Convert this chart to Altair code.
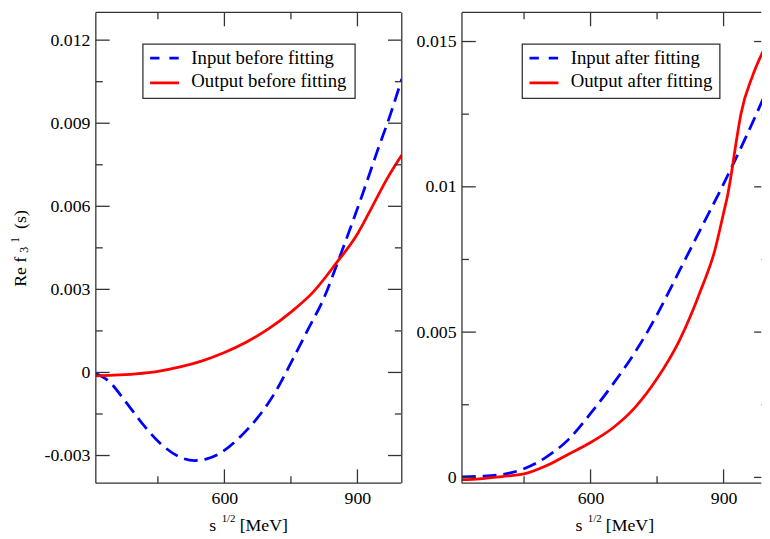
import altair as alt
import pandas as pd

# ---------------- data ----------------
s_left_input = [310, 340, 377, 414, 458, 503, 533, 562, 592, 637, 674, 711, 755, 790, 822, 863, 915, 945, 974, 1000]
f_left_input = [-0.00004, -0.00033, -0.00105, -0.00183, -0.0026, -0.00308, -0.00318, -0.00311, -0.0029, -0.0023,
                -0.00165, -0.00081, 0.0005, 0.0016, 0.0026, 0.0043, 0.0066, 0.0080, 0.0093, 0.0106]

s_left_output = [310, 350, 400, 450, 500, 550, 600, 650, 700, 750, 800, 850, 900, 937, 967, 1000]
f_left_output = [-0.00012, -0.0001, -0.00005, 0.00004, 0.0002, 0.00042, 0.00072, 0.0011, 0.00158, 0.00218,
                 0.0029, 0.0039, 0.0050, 0.0061, 0.0070, 0.00785]

s_right_input = [310, 350, 400, 450, 500, 550, 600, 650, 700, 750, 800, 850, 900, 950, 1000]
f_right_input = [0.00002, 0.00004, 0.0001, 0.0003, 0.0007, 0.0013, 0.0022, 0.0032, 0.0043, 0.0056,
                 0.0071, 0.0086, 0.0101, 0.0117, 0.0134]

s_right_output = [310, 350, 400, 450, 500, 550, 600, 650, 700, 750, 800, 850, 880, 900, 909, 917, 928, 939, 965, 987, 1000]
f_right_output = [-0.00008, -0.00005, 0.00003, 0.00012, 0.0004, 0.0008, 0.0012, 0.0017, 0.0024, 0.0034,
                  0.0047, 0.0065, 0.0078, 0.0091, 0.0097, 0.0104, 0.0115, 0.0125, 0.0138, 0.0146, 0.0150]

x_domain = [310, 1000]
x_major = [600, 900]
x_minor = [450, 750]

left_y_domain = [-0.004, 0.013]
left_y_major = [-0.003, 0, 0.003, 0.006, 0.009, 0.012]
left_y_minor = [-0.0015, 0.0015, 0.0045, 0.0075, 0.0105]

right_y_domain = [-0.0002, 0.016]
right_y_major = [0, 0.005, 0.01, 0.015]
right_y_minor = [0.0025, 0.0075, 0.0125]

left_legend = ["Input before fitting", "Output before fitting"]
right_legend = ["Input after fitting", "Output after fitting"]

# ---------------- styling / layout ----------------
FONT = "Liberation Serif"
BLUE = "#0000ff"
RED = "#ff0000"
FRAME = "#333333"
H = 477
FULL_W = 310                      # full frame width of a panel
MEV_PER_PX = (x_domain[1] - x_domain[0]) / FULL_W
RIGHT_VISIBLE_W = 304             # right panel is cut by the window edge
PLOT_TOP = 8.65                   # page y of the plot top
PLOT_LEFT = 95                    # page x of the left plot

one = pd.DataFrame({"k": [0]})
LABEL_EXPR = "replace(format(datum.value, '~g'), '\u2212', '-')"


def seg(x0, x1, y0, y1, **kw):
    enc = dict(x=alt.value(x0), y=alt.value(y0))
    if x1 != x0:
        enc["x2"] = alt.value(x1)
    if y1 != y0:
        enc["y2"] = alt.value(y1)
    style = dict(color=FRAME, strokeWidth=1.3)
    style.update(kw)
    return alt.Chart(one).mark_rule(**style).encode(**enc)


def txt(s, x, y, size, angle=None):
    kw = dict(text=s, font=FONT, fontSize=size, color="black", align="left", baseline="alphabetic")
    if angle is not None:
        kw["angle"] = angle
    return alt.Chart(one).mark_text(**kw).encode(x=alt.value(x), y=alt.value(y))


def panel(sx_in, fy_in, sx_out, fy_out, ydom, ymaj, ymin, labels, width, box_x0, box_x1, ytitle):
    xs = alt.Scale(domain=[x_domain[0], x_domain[0] + width * MEV_PER_PX], nice=False, zero=False)
    ys = alt.Scale(domain=ydom, nice=False, zero=False)
    rx = FULL_W
    edge = min(rx, width - 0.7)

    xaxis = alt.Axis(values=x_major, format="d", ticks=False, tickSize=0, domain=False, grid=False,
                     labelPadding=7, labelFontSize=18, labelFont=FONT, labelColor="black",
                     title=None, labelFlush=False)
    yaxis = alt.Axis(values=ymaj, labelExpr=LABEL_EXPR, ticks=False, tickSize=0, domain=False, grid=False,
                     labelPadding=6, labelFontSize=18, labelFont=FONT, labelColor="black",
                     title=None, labelFlush=False)
    X = lambda: alt.X("s:Q", scale=xs, axis=xaxis)
    Y = lambda: alt.Y("f:Q", scale=ys, axis=yaxis)

    layers = []

    def yt(vals, length):
        d = pd.DataFrame({"f": vals})
        a = alt.Chart(d).mark_rule(color=FRAME, strokeWidth=1.3).encode(
            y=Y(), x=alt.value(0), x2=alt.value(length))
        b = alt.Chart(d).mark_rule(color=FRAME, strokeWidth=1.3).encode(
            y=Y(), x=alt.value(rx - length), x2=alt.value(edge))
        return [a, b]

    def xt(vals, length):
        d = pd.DataFrame({"s": vals})
        a = alt.Chart(d).mark_rule(color=FRAME, strokeWidth=1.3).encode(
            x=X(), y=alt.value(H), y2=alt.value(H - length))
        b = alt.Chart(d).mark_rule(color=FRAME, strokeWidth=1.3).encode(
            x=X(), y=alt.value(0), y2=alt.value(length))
        return [a, b]

    df_in = pd.DataFrame({"s": sx_in, "f": fy_in})
    df_out = pd.DataFrame({"s": sx_out, "f": fy_out})
    layers.append(alt.Chart(df_in).mark_line(color=BLUE, strokeWidth=2.8, strokeDash=[14, 7],
                                             interpolate="monotone", clip=True)
                  .encode(x=X(), y=Y()))
    layers.append(alt.Chart(df_out).mark_line(color=RED, strokeWidth=2.8, interpolate="monotone", clip=True)
                  .encode(x=X(), y=Y()))

    layers += yt(ymaj, 14) + yt(ymin, 7) + xt(x_major, 14) + xt(x_minor, 7)

    # frame
    layers.append(seg(0, 0, 0, H))
    layers.append(seg(0, edge, 0, 0))
    layers.append(seg(0, edge, H, H))
    if width >= rx:
        layers.append(seg(rx, rx, 0, H))

    # legend
    by0, by1 = 40.7 - PLOT_TOP, 95.7 - PLOT_TOP
    layers.append(alt.Chart(one).mark_rect(fill="white", stroke=FRAME, strokeWidth=1.3).encode(
        x=alt.value(box_x0), x2=alt.value(box_x1), y=alt.value(by0), y2=alt.value(by1)))
    lx0 = box_x0 + 7.3
    lx1 = lx0 + 29.3
    layers.append(seg(lx0, lx1, 55 - PLOT_TOP, 55 - PLOT_TOP, color=BLUE, strokeWidth=2.8, strokeDash=[9.5, 10]))
    layers.append(seg(lx0, lx1, 80 - PLOT_TOP, 80 - PLOT_TOP, color=RED, strokeWidth=2.8))
    layers.append(txt(labels[0], box_x0 + 49, 61 - PLOT_TOP, 19))
    layers.append(txt(labels[1], box_x0 + 49, 84.3 - PLOT_TOP, 19))

    # x title: s^{1/2} [MeV]
    base = 534 - PLOT_TOP
    layers.append(txt("s", 115, base, 18))
    layers.append(txt("1/2", 127.5, base - 9, 11))
    layers.append(txt("[MeV]", 145.7, base, 18))

    if ytitle:
        # Re f_3^1 (s), rotated, pieces for the sub- and superscript
        layers.append(txt("Re f", 24 - PLOT_LEFT, 286.7 - PLOT_TOP, 18, angle=270))
        layers.append(txt("3", 26.5 - PLOT_LEFT, 252 - PLOT_TOP, 12, angle=270))
        layers.append(txt("1", 17 - PLOT_LEFT, 242 - PLOT_TOP, 12, angle=270))
        layers.append(txt("(s)", 24 - PLOT_LEFT, 228 - PLOT_TOP, 18, angle=270))
        # invisible anchor fixing the left edge of the figure
        layers.append(alt.Chart(one).mark_rect(opacity=0).encode(
            x=alt.value(-87), x2=alt.value(-86), y=alt.value(200), y2=alt.value(201)))

    return alt.layer(*layers).properties(width=width, height=H)


left = panel(s_left_input, f_left_input, s_left_output, f_left_output,
             left_y_domain, left_y_major, left_y_minor, left_legend,
             FULL_W, 47.7, 262.7, True)
right = panel(s_right_input, f_right_input, s_right_output, f_right_output,
              right_y_domain, right_y_major, right_y_minor, right_legend,
              RIGHT_VISIBLE_W, 61.1, 261.3, False)

chart = alt.hconcat(left, right, spacing=61, bounds="flush", padding=0).configure_view(stroke=None)

chart.save("out.html", embed_options={"renderer": "svg", "actions": False})
